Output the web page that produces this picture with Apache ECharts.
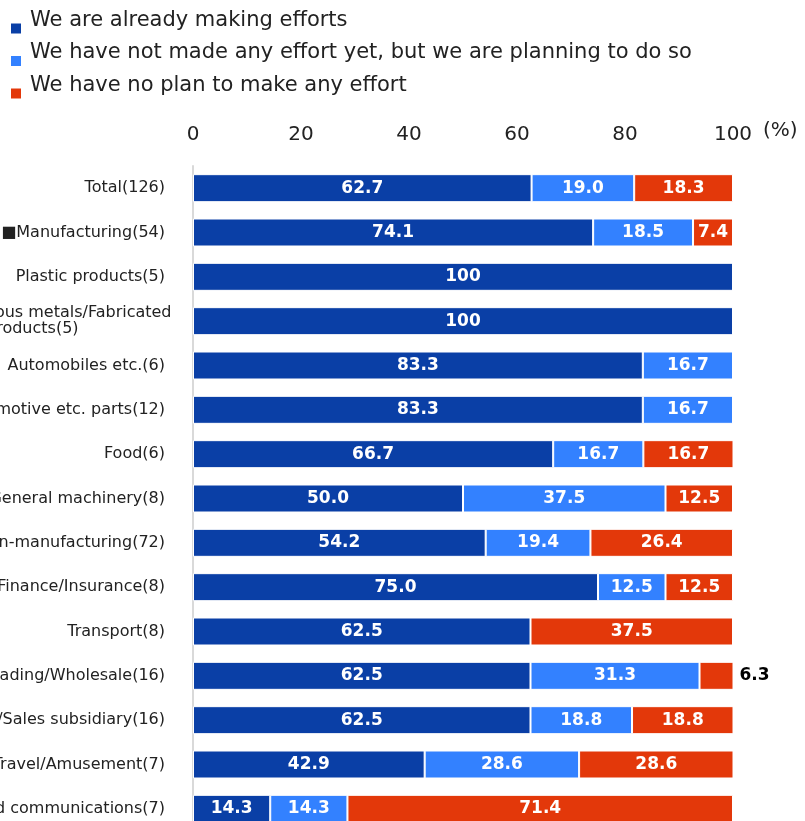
<!DOCTYPE html>
<html>
<head>
<meta charset="utf-8">
<script src="https://cdn.jsdelivr.net/npm/echarts@6/dist/echarts.min.js"></script>
<style>
  html, body { margin: 0; padding: 0; background: #fff; }
  #chart { width: 805px; height: 821px; }
</style>
</head>
<body>
<div id="chart"></div>
<script>
// 分类（上から順）
const categories = [
  'Total(126)',
  '\u25A0Manufacturing(54)',
  'Plastic products(5)',
  'Nonferrous metals/Fabricated\nmetal products(5)',
  'Automobiles etc.(6)',
  'Automotive etc. parts(12)',
  'Food(6)',
  'General machinery(8)',
  '\u25A0Non-manufacturing(72)',
  'Finance/Insurance(8)',
  'Transport(8)',
  'Trading/Wholesale(16)',
  'Retail/Sales subsidiary(16)',
  'Travel/Amusement(7)',
  'Information and communications(7)'
]
const seriesNames = [
  'We are already making efforts',
  'We have not made any effort yet, but we are planning to do so',
  'We have no plan to make any effort'
]
const already = [62.7, 74.1, 100, 100, 83.3, 83.3, 66.7, 50.0, 54.2, 75.0, 62.5, 62.5, 62.5, 42.9, 14.3]
const planning = [19.0, 18.5, 0, 0, 16.7, 16.7, 16.7, 37.5, 19.4, 12.5, 0, 31.3, 18.8, 28.6, 14.3]
const noPlan = [18.3, 7.4, 0, 0, 0, 0, 16.7, 12.5, 26.4, 12.5, 37.5, 6.3, 18.8, 28.6, 71.4]
const xTicks = [0, 20, 40, 60, 80, 100]

const colors = ['#0A3FA6', '#3381FF', '#E3380A']
const chart = echarts.init(document.getElementById('chart'))

// 小さすぎる区間はラベルを外側に出す
const outsideIdx = 11

function buildData(values, si) {
  return values.map((v, i) => {
    if (si === 2 && i === outsideIdx) {
      return {
        value: v,
        label: { position: 'right', distance: 6, color: '#000' }
      }
    }
    return v
  })
}

// 2行ラベルは行頭揃え
function catLabel(v) {
  if (v.indexOf('\n') < 0) return v
  return v.split('\n').map(s => '{l|' + s + '}').join('\n')
}

const option = {
  animation: false,
  color: colors,
  textStyle: { fontFamily: 'DejaVu Sans' },
  legend: {
    orient: 'vertical',
    left: 4,
    top: 5,
    itemWidth: 12,
    itemHeight: 12,
    itemGap: 7,
    icon: 'rect',
    formatter: name => '{t|' + name + '}',
    textStyle: {
      fontSize: 21,
      color: '#222',
      rich: {
        t: { fontSize: 21, color: '#222', padding: [0, 0, 16, 3] }
      }
    },
    data: seriesNames
  },
  grid: {
    left: 193,
    right: 72,
    top: 166,
    height: 665,
    outerBoundsMode: 'none',
    containLabel: false
  },
  xAxis: {
    type: 'value',
    position: 'top',
    min: 0,
    max: 100,
    interval: 20,
    axisLine: { show: false },
    axisTick: { show: false },
    splitLine: { show: false },
    axisLabel: {
      fontSize: 20,
      color: '#222',
      margin: 21,
      formatter: v => xTicks.indexOf(v) >= 0 ? String(v) : ''
    }
  },
  yAxis: {
    type: 'category',
    inverse: true,
    data: categories,
    axisLine: { show: true, lineStyle: { color: '#d9d9d9', width: 2 } },
    axisTick: { show: false },
    axisLabel: {
      fontSize: 16,
      color: '#222',
      margin: 28,
      lineHeight: 16,
      formatter: catLabel,
      rich: {
        l: { fontSize: 16, color: '#222', lineHeight: 16, width: 240, align: 'left', padding: [0, -10, 0, 0] }
      }
    }
  },
  graphic: [{
    type: 'text',
    left: 763,
    top: 121,
    style: { text: '(%)', fontSize: 20, fill: '#222', fontFamily: 'DejaVu Sans' }
  }],
  series: seriesNames.map((name, si) => ({
    name: name,
    type: 'bar',
    stack: 'total',
    barWidth: 28,
    itemStyle: { borderColor: '#fff', borderWidth: 1 },
    label: {
      show: true,
      position: 'inside',
      color: '#fff',
      fontSize: 17,
      fontWeight: 'bold',
      formatter: p => p.value > 0 ? (p.value === 100 ? '100' : p.value.toFixed(1)) : ''
    },
    data: buildData([already, planning, noPlan][si], si)
  }))
}

chart.setOption(option)
</script>
</body>
</html>
